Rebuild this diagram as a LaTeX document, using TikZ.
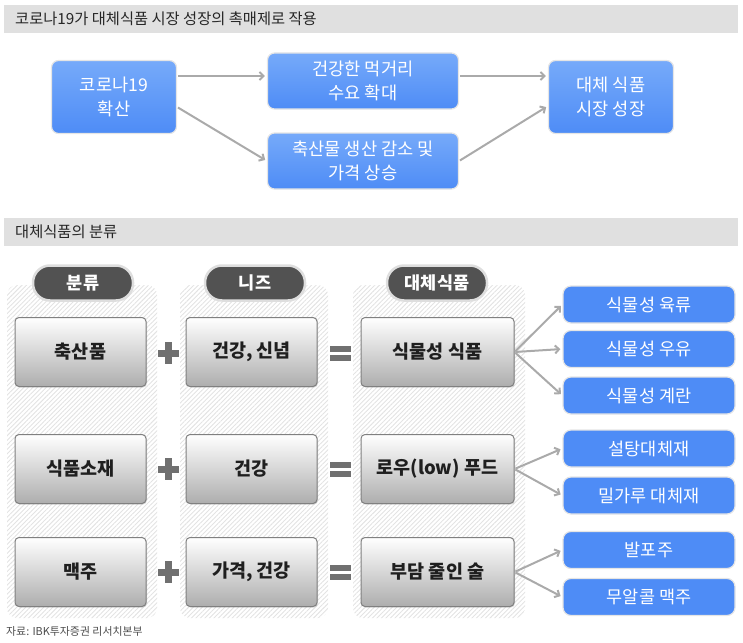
\documentclass[tikz,border=0pt]{standalone}
\usepackage{fontspec}
\setmainfont{Noto Sans CJK KR}
\usepackage{xcolor}
\usetikzlibrary{arrows.meta, positioning, patterns.meta, shadows}

\definecolor{boxblue}{RGB}{78,140,246}
\definecolor{boxbluelt}{RGB}{118,170,250}
\definecolor{barGray}{RGB}{224,224,224}
\definecolor{pillGray}{RGB}{82,82,82}
\definecolor{signGray}{RGB}{112,112,112}
\definecolor{arrGray}{RGB}{170,170,170}

\begin{document}
\begin{tikzpicture}[
  x=1pt, y=-1pt,
  >=Stealth,
  every node/.style={inner sep=0pt},
  titlebar/.style={fill=barGray},
  titletext/.style={anchor=west, font=\fontsize{15.3}{17}\selectfont, text=black!85},
  flowblock/.style={draw=black!10, line width=1.2pt, rounded corners=7pt, align=center,
                    text=white, top color=boxbluelt, bottom color=boxblue,
                    font=\fontsize{17.6}{24}\selectfont},
  panel/.style={rounded corners=10pt,
                pattern={Lines[angle=45, distance=3.2pt, line width=0.9pt]},
                pattern color=black!11},
  pill/.style={draw=black!13, line width=2.5pt, fill=pillGray, rounded corners=17pt,
               minimum width=100pt, minimum height=35pt, text=white,
               font=\fontsize{17.5}{20}\selectfont\bfseries},
  greyblock/.style={draw=black!50, line width=1pt, rounded corners=4pt, align=center,
                    top color=white, middle color=black!10, bottom color=black!32,
                    drop shadow={shadow xshift=1pt, shadow yshift=-1pt, opacity=0.25},
                    minimum width=131pt, minimum height=69pt, text=black!88,
                    font=\fontsize{18.5}{22}\selectfont\bfseries},
  leafblock/.style={draw=black!10, line width=1.2pt, rounded corners=8pt, fill=boxblue,
                    minimum width=172pt, minimum height=37pt, text=white,
                    font=\fontsize{17.5}{20}\selectfont},
  arr/.style={-{Straight Barb[length=4pt, width=8pt]}, arrGray, line width=2pt,
              shorten <=1pt, shorten >=2pt},
  sign/.style={signGray, line width=7pt},
  eqbar/.style={signGray, line width=6pt},
]
\useasboundingbox (0,0) rectangle (743,642);

%% ── Title bars ──────────────────────────────────────────────────────────────
\fill[titlebar] (4,5) rectangle (738,33);
\node[titletext] (title1) at (15,19) {코로나19가 대체식품 시장 성장의 촉매제로 작용};
\fill[titlebar] (4,218) rectangle (738,246);
\node[titletext] (title2) at (15,232) {대체식품의 분류};

%% ── Covid flow ──────────────────────────────────────────────────────────────
\node[flowblock, minimum width=125pt, minimum height=73pt] (spread) at (114,97)
  {코로나19\\확산};
\node[flowblock, minimum width=191pt, minimum height=56pt] (demand) at (363,81)
  {건강한 먹거리\\수요 확대};
\node[flowblock, minimum width=191pt, minimum height=56pt] (supply) at (363,161)
  {축산물 생산 감소 및\\가격 상승};
\node[flowblock, minimum width=125pt, minimum height=73pt] (market) at (611,97)
  {대체 식품\\시장 성장};

\draw[arr] ([yshift=21pt]spread.east) -- ([yshift=21pt]spread.east -| demand.west);
\draw[arr] ([yshift=-10pt]spread.east) -- (supply.west);
\draw[arr] ([yshift=5pt]demand.east) -- ([yshift=5pt]demand.east -| market.west);
\draw[arr] (supply.east) -- ([yshift=-9pt]market.west);

%% ── Hatched columns ─────────────────────────────────────────────────────────
\path[panel] (7,285) rectangle (157,618);
\path[panel] (180,285) rectangle (328,618);
\path[panel] (353,285) rectangle (525,618);

\node[pill] (hdcat)  at (83,283)  {분류};
\node[pill] (hdneed) at (255,283) {니즈};
\node[pill] (hdalt)  at (437,283) {대체식품};

%% ── Category + need = alternative ───────────────────────────────────────────
\node[greyblock] (meat)   at (80.5,352)  {축산품};
\node[greyblock] (belief) at (251.5,352) {건강, 신념};
\node[greyblock, minimum width=153pt] (plant) at (437.5,352) {식물성 식품};

\node[greyblock] (ingred) at (80.5,469)  {식품소재};
\node[greyblock] (health) at (251.5,469) {건강};
\node[greyblock, minimum width=153pt] (lowfood) at (437.5,469) {로우(low) 푸드};

\node[greyblock] (beer)   at (80.5,572)  {맥주};
\node[greyblock] (price)  at (251.5,572) {가격, 건강};
\node[greyblock, minimum width=153pt] (lightdrink) at (437.5,572) {부담 줄인 술};

%% plus / equals signs
\draw[sign] (158,353) -- (179,353);
\draw[sign] (168.5,342) -- (168.5,364);
\draw[eqbar] (330,349) -- (351,349);
\draw[eqbar] (330,358) -- (351,358);

\draw[sign] (158,469) -- (179,469);
\draw[sign] (168.5,458) -- (168.5,480);
\draw[eqbar] (330,465) -- (351,465);
\draw[eqbar] (330,474) -- (351,474);

\draw[sign] (158,572) -- (179,572);
\draw[sign] (168.5,561) -- (168.5,583);
\draw[eqbar] (330,568) -- (351,568);
\draw[eqbar] (330,577) -- (351,577);

%% ── Examples ────────────────────────────────────────────────────────────────
\node[leafblock] (pmeat) at (649,304.5) {식물성 육류};
\node[leafblock] (pmilk) at (649,349)   {식물성 우유};
\node[leafblock] (pegg)  at (649,395.5) {식물성 계란};

\node[leafblock] (sugar) at (649,448.5) {설탕대체재};
\node[leafblock] (flour) at (649,495.5) {밀가루 대체재};

\node[leafblock] (happo)  at (649,550) {발포주};
\node[leafblock] (nonalc) at (649,597) {무알콜 맥주};

\draw[arr] (plant.east) -- (pmeat.west);
\draw[arr] (plant.east) -- (pmilk.west);
\draw[arr] (plant.east) -- (pegg.west);

\draw[arr] (lowfood.east) -- (sugar.west);
\draw[arr] (lowfood.east) -- (flour.west);

\draw[arr] (lightdrink.east) -- (happo.west);
\draw[arr] (lightdrink.east) -- (nonalc.west);

%% ── Source ──────────────────────────────────────────────────────────────────
\node[anchor=west, font=\fontsize{10.9}{12}\selectfont, text=black!70] (source) at (6,631)
  {자료: IBK투자증권 리서치본부};

\end{tikzpicture}
\end{document}
